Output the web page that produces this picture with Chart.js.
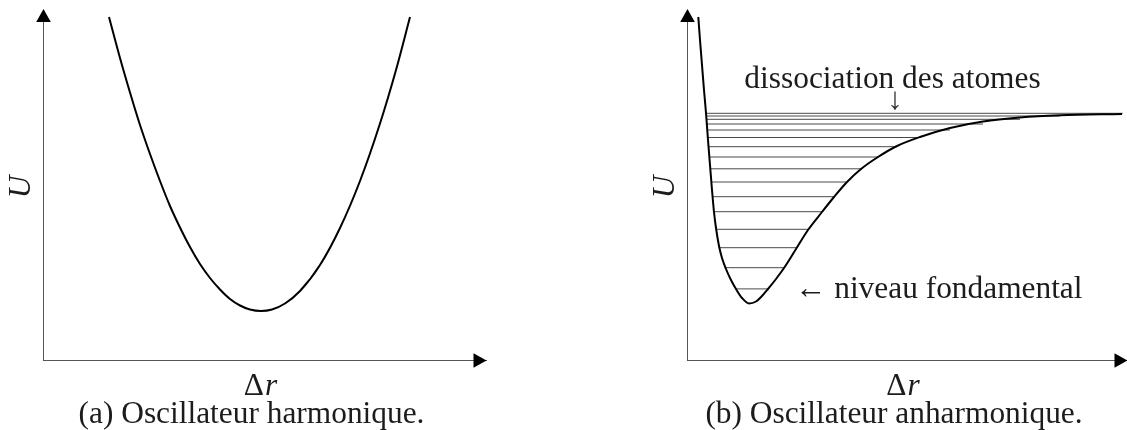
<!DOCTYPE html>
<html>
<head>
<meta charset="utf-8">
<script src="https://cdn.jsdelivr.net/npm/chart.js@4.4.1/dist/chart.umd.min.js"></script>
<style>
  html, body { margin: 0; padding: 0; background: #fff; }
  #wrap { position: relative; width: 1127px; height: 430px; overflow: hidden; background: #fff; }
  canvas { position: absolute; top: 0; }
</style>
</head>
<body>
<div id="wrap">
  <canvas id="c1" width="563" height="430" style="left:0px"></canvas>
  <canvas id="c2" width="564" height="430" style="left:563px"></canvas>
</div>
<script>
// ---------- DATA (arbitrary units) ----------
// (a) harmonic oscillator: potential U(Δr)
const harmDr = [13.2, 15.4, 17.4, 19.4, 21.4, 23.4, 25.4, 27.4, 29.4, 31.4, 33.4, 35.4, 37.4, 39.4, 41.4, 43.6,
                45.8, 48.4, 51.4, 55.4, 59.4, 63.4, 67.4, 70.6, 73.4];
const harmU  = [68.6, 60.4, 53.5, 47.0, 41.2, 35.8, 30.8, 26.5, 22.6, 19.2, 16.4, 14.1, 12.2, 10.9, 10.1, 9.8,
                10.1, 11.3, 13.8, 19.0, 26.4, 35.8, 47.3, 58.0, 68.6];

// (b) anharmonic oscillator: potential U(Δr)
const morseDr = [2.26, 2.6, 3.0, 3.4, 3.8, 4.2, 4.6, 5.0, 5.4, 5.8, 6.4, 7.0, 7.8, 8.8, 9.8, 11.0, 12.4,
                 13.8, 15.0, 16.2, 17.8, 19.4, 21.8, 24.2, 27.0, 29.4, 32.0, 34.8, 38.2, 42.0, 46.6, 52.6,
                 59.2, 66.6, 74.6, 87.0];
const morseU  = [68.6, 64.0, 59.0, 54.0, 49.4, 44.0, 39.0, 34.0, 29.6, 26.4, 22.8, 20.4, 18.2, 16.0, 14.2, 12.4, 11.3,
                 11.7, 12.8, 14.2, 16.2, 18.4, 22.2, 26.0, 29.6, 32.6, 35.6, 38.2, 40.6, 42.8, 44.6, 46.4,
                 47.7, 48.5, 48.94, 49.2];

// (b) vibrational energy levels: height and ends on the two branches
const levelU     = [49.34, 48.8, 48.14, 47.2, 46.0, 44.5, 42.66, 40.6, 38.24, 35.6, 32.66, 29.66, 26.14, 22.46, 18.46, 14.22];
const levelLeft  = [3.8, 3.86, 3.92, 4.0, 4.1, 4.2, 4.34, 4.48, 4.72, 4.92, 5.2, 5.5, 5.92, 6.6, 7.8, 9.8];
const levelRight = [87.14, 74.6, 66.6, 59.2, 52.6, 46.6, 41.94, 38.4, 35.0, 31.94, 29.4, 26.94, 24.4, 21.94, 19.34, 16.26];

// texts
const axisLabelY = 'U';
const axisLabelX = ['Δ', 'r'];
const captions = ['(a) Oscillateur harmonique.', '(b) Oscillateur anharmonique.'];
const noteDissoc = 'dissociation des atomes';
const noteArrow = '↓';
const noteGround = '← niveau fondamental';

// ---------- helpers ----------
const SERIF = '"Liberation Serif", "DejaVu Serif", serif';
const TEXT_COLOR = '#1c1c1c';

function fitSize(ctx, text, target) {
  ctx.save();
  ctx.font = '100px ' + SERIF;
  const w = ctx.measureText(text).width;
  ctx.restore();
  return 100 * target / w;
}

function pts(xs, ys) { return xs.map((x, i) => ({ x: x, y: ys[i] })); }

const decor = {
  id: 'decor',
  afterDraw(chart, args, o) {
    const { ctx, chartArea: a, scales } = chart;
    const size = fitSize(ctx, captions[0], 346);
    ctx.save();
    // arrowheads
    ctx.fillStyle = '#000';
    ctx.beginPath();
    ctx.moveTo(a.left + 0.5, a.top - 1);
    ctx.lineTo(a.left + 0.5 - 7.3, a.top + 12);
    ctx.lineTo(a.left + 0.5 + 7.3, a.top + 12);
    ctx.closePath(); ctx.fill();
    ctx.beginPath();
    ctx.moveTo(a.right + 0.5, a.bottom + 0.5);
    ctx.lineTo(a.right - 12.5, a.bottom + 0.5 - 7.3);
    ctx.lineTo(a.right - 12.5, a.bottom + 0.5 + 7.3);
    ctx.closePath(); ctx.fill();

    ctx.fillStyle = TEXT_COLOR;
    ctx.textBaseline = 'alphabetic';
    const cx = (a.left + a.right) / 2;

    // y axis label
    ctx.save();
    ctx.translate(a.left - 21, (a.top + a.bottom) / 2 + 2);
    ctx.rotate(-Math.PI / 2);
    ctx.font = 'italic ' + size.toFixed(2) + 'px ' + SERIF;
    ctx.textAlign = 'center';
    ctx.textBaseline = 'middle';
    ctx.fillText(axisLabelY, 0, 0);
    ctx.restore();

    // x axis label Δr
    ctx.textAlign = 'left';
    const fN = size.toFixed(2) + 'px ' + SERIF;
    const fI = 'italic ' + size.toFixed(2) + 'px ' + SERIF;
    ctx.font = fN; const w1 = ctx.measureText(axisLabelX[0]).width;
    ctx.font = fI; const w2 = ctx.measureText(axisLabelX[1]).width;
    let x0 = cx - 4 - (w1 + w2 + 1) / 2;
    ctx.font = fN; ctx.fillText(axisLabelX[0], x0, a.bottom + 35);
    ctx.font = fI; ctx.fillText(axisLabelX[1], x0 + w1 + 1, a.bottom + 35);

    // caption
    ctx.font = fN;
    ctx.textAlign = 'center';
    ctx.fillText(o.caption, cx - 13, a.bottom + 63);

    // notes
    (o.notes || []).forEach(n => {
      const px = scales.x.getPixelForValue(n.x);
      const py = scales.y.getPixelForValue(n.y);
      ctx.font = fN;
      ctx.textAlign = n.align || 'left';
      if (n.bottom) {
        const m = ctx.measureText(n.text);
        ctx.fillStyle = '#333';
        ctx.fillText(n.text, px, py - m.actualBoundingBoxDescent);
        ctx.fillStyle = TEXT_COLOR;
      } else {
        ctx.fillText(n.text, px, py);
      }
    });
    ctx.restore();
  }
};

function scaleOpts(max, fitProp, fitVal) {
  return {
    type: 'linear', min: 0, max: max,
    grid: { display: false, drawTicks: false },
    ticks: { display: false },
    border: { display: true, color: '#555', width: 1 },
    afterFit: s => { s[fitProp] = fitVal; }
  };
}

function makeChart(id, datasets, xMax, yWidth, padRight, decorOpts) {
  return new Chart(document.getElementById(id), {
    type: 'scatter',
    data: { datasets: datasets },
    options: {
      responsive: false,
      devicePixelRatio: 1,
      animation: false,
      events: [],
      layout: { autoPadding: false, padding: { top: 10, right: padRight, left: 0, bottom: 0 } },
      scales: {
        x: scaleOpts(xMax, 'height', 70),
        y: scaleOpts(70, 'width', yWidth)
      },
      plugins: { legend: { display: false }, tooltip: { enabled: false }, decor: decorOpts }
    },
    plugins: [decor]
  });
}

const curveStyle = {
  showLine: true, pointRadius: 0, borderColor: '#000', borderWidth: 2,
  cubicInterpolationMode: 'monotone', clip: false, order: 0
};

makeChart('c1', [
  Object.assign({ data: pts(harmDr, harmU) }, curveStyle)
], 88.6, 43, 77, { caption: captions[0] });

const levelSets = levelU.map((u, i) => ({
  data: [{ x: levelLeft[i], y: u }, { x: levelRight[i], y: u }],
  showLine: true, pointRadius: 0, borderColor: '#4a4a4a', borderWidth: 1, tension: 0, order: 1
}));

makeChart('c2', [
  Object.assign({ data: pts(morseDr, morseU) }, curveStyle)
].concat(levelSets), 88, 124, 0, {
  caption: captions[1],
  notes: [
    { text: noteDissoc, x: 41.1, y: 54.4, align: 'center' },
    { text: noteArrow, x: 41.6, y: 50.0, align: 'center', bottom: true },
    { text: noteGround, x: 21.6, y: 12.46, align: 'left' }
  ]
});
</script>
</body>
</html>
